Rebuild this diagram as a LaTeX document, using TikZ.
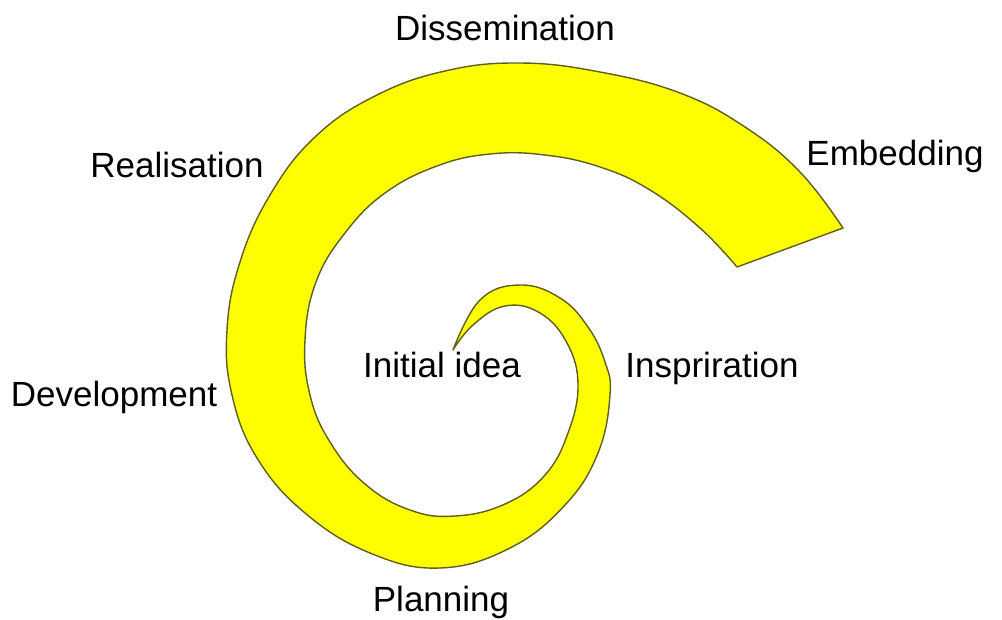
\documentclass[tikz,border=0pt]{standalone}
\usepackage{fontspec}
\setmainfont{Liberation Sans}
\definecolor{spiralfill}{RGB}{255,255,0}
\definecolor{spiraledge}{RGB}{95,95,30}
\begin{document}
\begin{tikzpicture}[x=1pt,y=-1pt,
  lbl/.style={font=\fontsize{35}{40}\selectfont, anchor=base, inner sep=0pt, text=black},
  spiral/.style={fill=spiralfill, draw=spiraledge, line width=1.4pt, line join=round}]
\useasboundingbox (0,0) rectangle (1002,619);
\path[spiral]
  plot[smooth, tension=0.7] coordinates {
    (453,350) (480,300) (520,285) (560,298) (588,327) (605,362) (610,395) (598,453) (565,505) (510,548)
    (440,568) (370,553) (305,513) (257,458) (232,395) (227,330) (240,262) (270,195) (315,137)
    (375,96) (445,71) (520,63) (600,72) (680,93) (745,127) (800,172) (843,228)}
  -- plot[smooth, tension=0.7] coordinates {
    (737,267) (700,228) (650,190) (600,167) (545,155) (490,154) (437,166) (385,193) (345,233)
    (316,282) (305,340) (310,395) (330,442) (365,484) (410,510) (455,516) (505,504) (545,475)
    (568,433) (578,385) (567,343) (540,313) (505,306) (473,325) (453,350)}
  -- cycle;
\node[lbl] (dissemination) at (505,40) {Dissemination};
\node[lbl] (realisation) at (177,177) {Realisation};
\node[lbl] (embedding) at (895,165) {Embedding};
\node[lbl] (development) at (114,406) {Development};
\node[lbl] (initial) at (442,377) {Initial idea};
\node[lbl] (inspiration) at (712,377) {Inspriration};
\node[lbl] (planning) at (441,611) {Planning};
\end{tikzpicture}
\end{document}
